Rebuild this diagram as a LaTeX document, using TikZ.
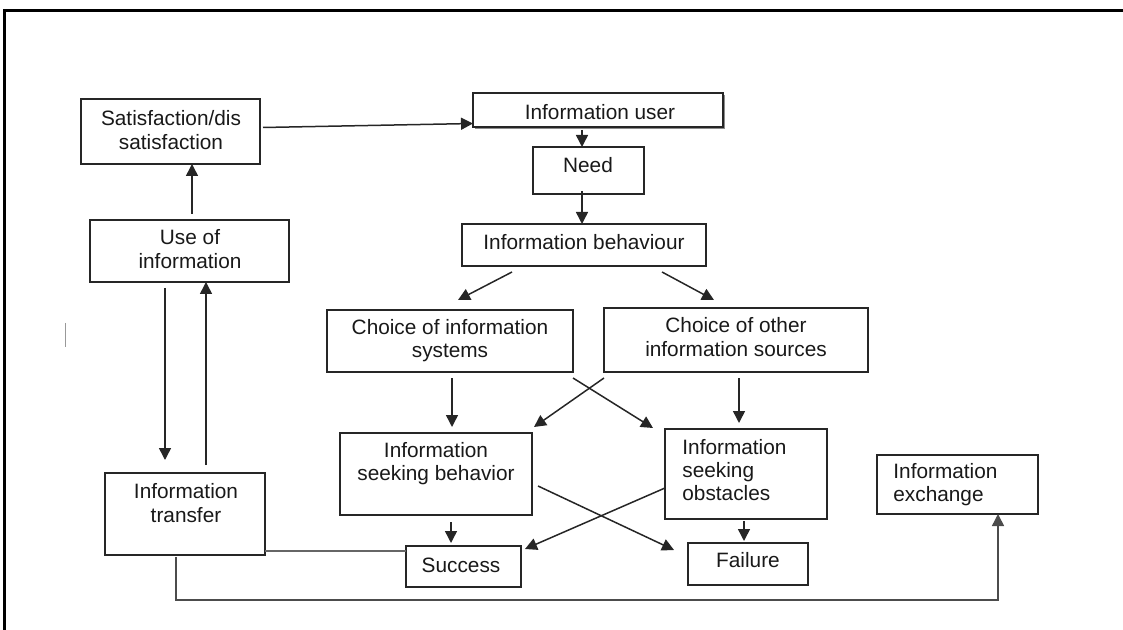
\documentclass[tikz,border=0pt]{standalone}
\usepackage{fontspec}
\setmainfont{Liberation Sans}
\usetikzlibrary{arrows.meta,calc,shadows}
\begin{document}
\begin{tikzpicture}[x=0.5pt,y=-0.5pt,
  box/.style={draw=black!85, line width=0.7pt, inner sep=0pt, outer sep=0pt, fill=white},
  txt/.style={font=\fontsize{10.4}{11.6}\selectfont, text=black!90, inner sep=0pt, align=center},
  ltxt/.style={txt, align=left, anchor=west},
  conn/.style={draw=black!85, line width=0.75pt},
  arr/.style={conn, -{Triangle[length=6pt,width=6pt]}}]
\useasboundingbox (0,0) rectangle (1123,630);
% outer frame (partly visible)
\draw[line width=1.5pt] (4,630) -- (4,11) -- (1123,11);
\draw[black!40, line width=0.5pt] (65,323) -- (65,347);

% boxes
\node[box, minimum width=89.5pt, minimum height=32.5pt] (sat) at (170.5,131.5) {};
\node[box, minimum width=125pt, minimum height=17pt, drop shadow={shadow xshift=1pt, shadow yshift=-1pt, fill=black!45, opacity=1}] (user) at (598,110) {};
\node[box, minimum width=55.5pt, minimum height=23.5pt] (need) at (588.5,170.5) {};
\node[box, minimum width=122pt, minimum height=21pt] (beh) at (584,245) {};
\node[box, minimum width=99.5pt, minimum height=31pt] (use) at (189.5,251) {};
\node[box, minimum width=80pt, minimum height=41pt] (trans) at (185,514) {};
\node[box, minimum width=123pt, minimum height=31pt] (cis) at (450,341) {};
\node[box, minimum width=132pt, minimum height=32pt] (cos) at (736,340) {};
\node[box, minimum width=96pt, minimum height=41pt] (isb) at (436,474) {};
\node[box, minimum width=81pt, minimum height=45pt] (iso) at (746,474) {};
\node[box, minimum width=57.5pt, minimum height=20.5pt] (suc) at (463.5,566.5) {};
\node[box, minimum width=60pt, minimum height=21pt] (fail) at (748,564) {};
\node[box, minimum width=80.5pt, minimum height=29.5pt] (exch) at (957.5,484.5) {};

% texts
\node[txt] (satT) at (171,130) {Satisfaction/dis\\satisfaction};
\node[txt] (userT) at (600,112) {Information user};
\node[txt] (needT) at (588,165) {Need};
\node[txt] (behT) at (584,242) {Information behaviour};
\node[txt] (useT) at (190,249) {Use of\\information};
\node[txt] (transT) at (186,503) {Information\\transfer};
\node[txt] (cisT) at (450,341) {Choice of information\\systems};
\node[txt] (cosT) at (736,337) {Choice of other\\information sources};
\node[txt] (isbT) at (436,464) {Information\\seeking behavior};
\node[ltxt] (isoT) at (682,470) {Information\\seeking\\obstacles};
\node[txt] (sucT) at (461,565) {Success};
\node[txt] (failT) at (748,560) {Failure};
\node[ltxt] (exchT) at (893,485) {Information\\exchange};

% connectors
\draw[arr] ($(sat.east)+(3,-4)$) -- ($(user.south west)+(0,-3.5)$);
\draw[arr] ($(user.south)+(-16,3)$) -- ($(need.north)+(-6.5,0)$);
\draw[arr] ($(need.south)+(-6.5,-3)$) -- ($(beh.north)+(-2,0)$);
\draw[arr] ($(beh.south)+(-72,6)$) -- ($(cis.north)+(8,-10)$);
\draw[arr] ($(beh.south)+(78,6)$) -- ($(cos.north)+(-22,-8)$);
\draw[arr] ($(use.north)+(2.5,-6)$) -- ($(sat.south)+(21.5,0)$);
\draw[arr] ($(use.south)+(-24.5,6)$) -- ($(trans.north)+(-20,-13)$);
\draw[arr] ($(trans.north)+(21,-8)$) -- ($(use.south)+(16.5,0)$);
\draw[arr] ($(cis.south)+(2,6)$) -- ($(isb.north)+(16,-6)$);
\draw[arr] ($(cos.south)+(3,6)$) -- ($(iso.north)+(-7,-6)$);
\draw[arr] ($(cis.south east)+(0,6)$) -- ($(iso.north west)+(-12,-1)$);
\draw[arr] ($(cos.south west)+(0,6)$) -- ($(isb.north east)+(2,-6)$);
\draw[arr] ($(isb.south)+(15,7)$) -- ($(suc.north)+(-12.5,-3)$);
\draw[arr] ($(iso.south)+(-2,2)$) -- ($(fail.north)+(-4,-2)$);
\draw[arr] ($(isb.east)+(6,12)$) -- ($(fail.west)+(-14,-14)$);
\draw[arr] ($(iso.west)+(0,14)$) -- ($(suc.east)+(4,-17.5)$);
\draw[conn, draw=black!60] ($(trans.south east)+(0,-4)$) -- ($(suc.north west)+(0,5)$);
\draw[arr, draw=black!70] ($(trans.south)+(-9,2)$) -- ++(0,43) -| ($(exch.south)+(40.5,0)$);
\end{tikzpicture}
\end{document}
